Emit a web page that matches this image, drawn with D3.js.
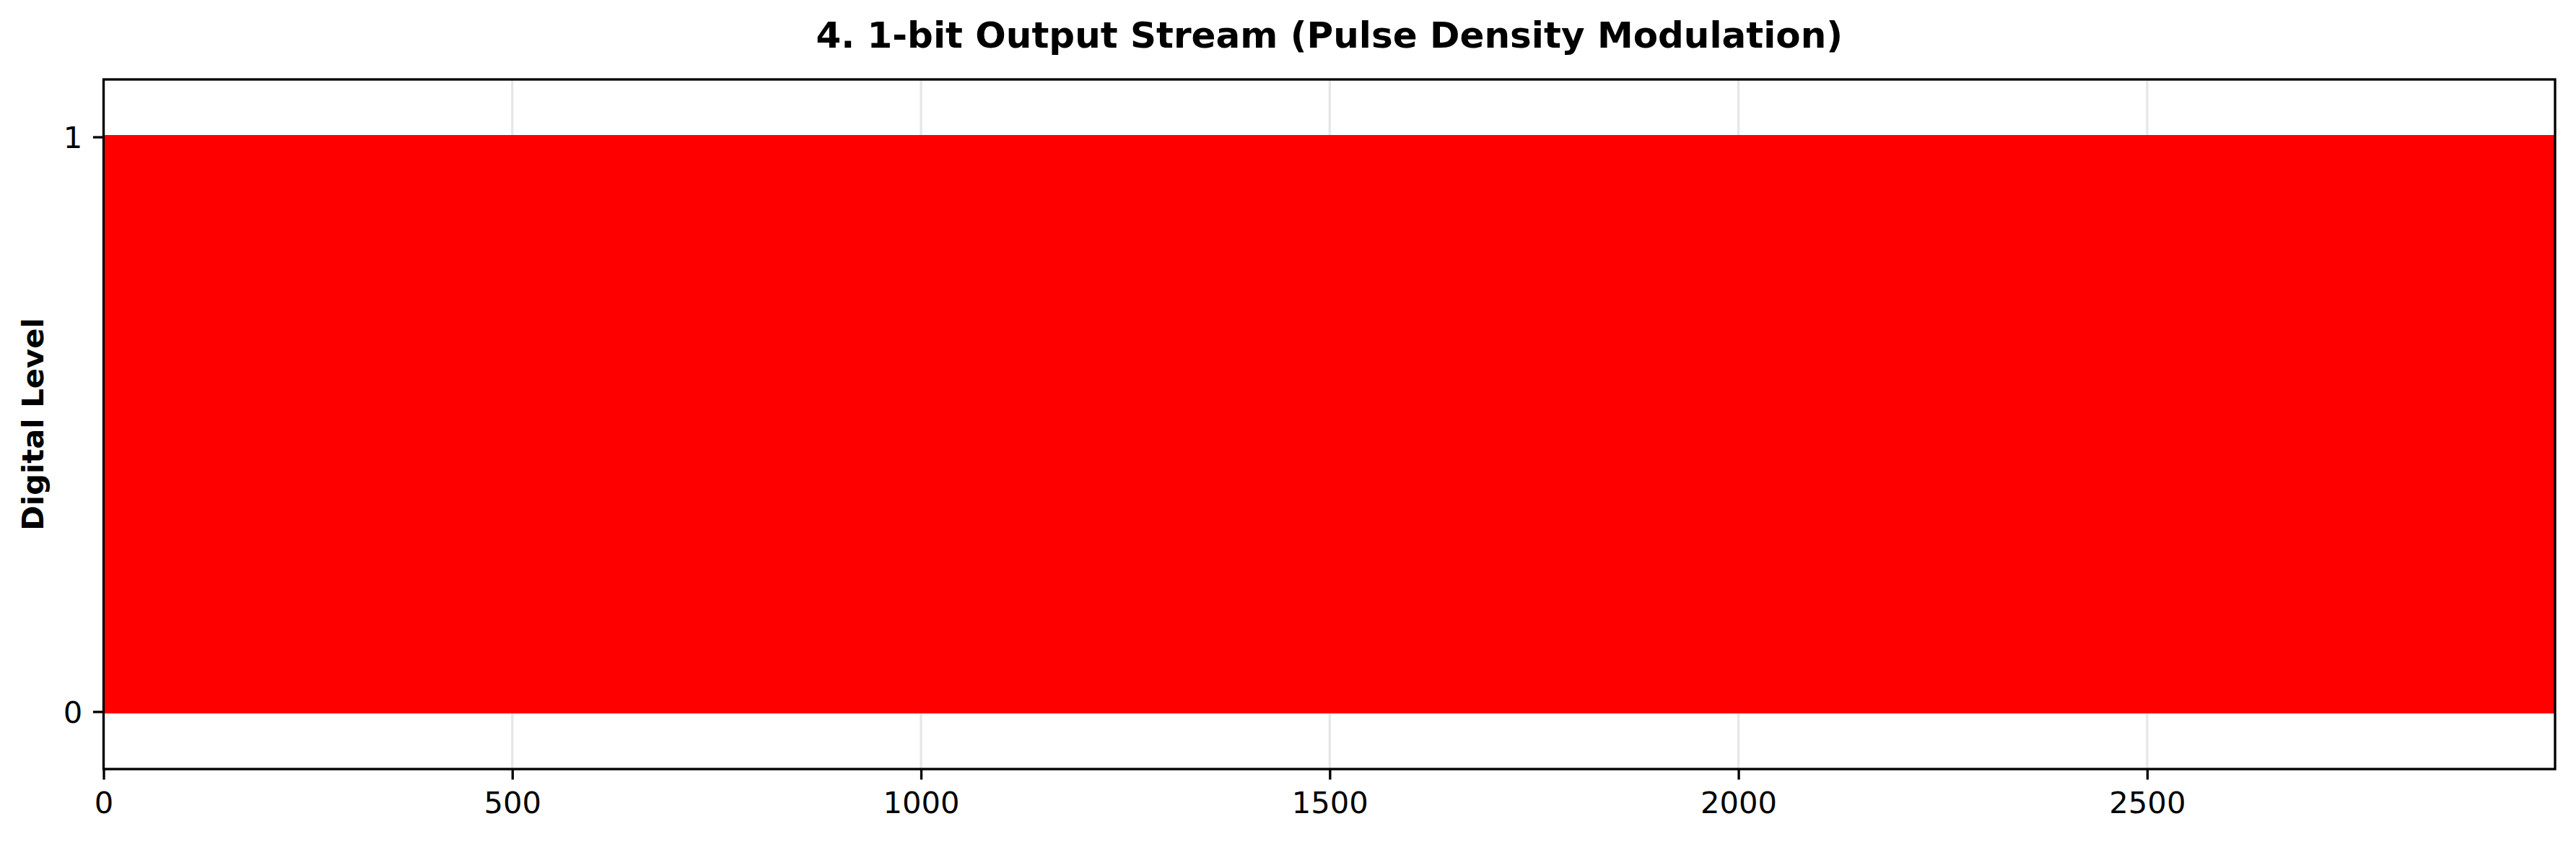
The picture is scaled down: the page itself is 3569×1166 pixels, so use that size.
<!DOCTYPE html>
<html>
<head>
<meta charset="utf-8">
<script src="https://cdn.jsdelivr.net/npm/d3@7"></script>
<style>
  body { margin: 0; background: #fff; }
  svg { display: block; font-family: "DejaVu Sans", sans-serif; }
</style>
</head>
<body>
<svg id="chart" width="3569" height="1166"></svg>
<script>
// 1-bit stream, 3000 samples, 100 per row (spaces are only for reading)
var bitRows = [
  "1010110101 0101101010 1101010010 0110101101 1011010100 0100101011 1010101101 0101011010 1010110101 1101010010",
  "0110101101 1010101101 0101101010 1011010100 0100101011 1101010010 0101011010 1010110101 0110101101 1011010100",
  "1101010010 0100101011 1010110101 0101011010 0110101101 1010101101 1011010100 0101101010 1101010010 0100101011",
  "1010101101 1011010100 0110101101 0101101010 1010110101 0101011010 1101010010 0100101011 1010101101 0110101101",
  "0101101010 1101010010 1010110101 0100101011 1011010100 0110101101 0101011010 1010101101 0101101010 1011010100",
  "1010110101 0110101101 1101010010 1010101101 0101011010 1011010100 0100101011 0101101010 1010110101 1101010010",
  "0100101011 1010101101 0101101010 1101010010 0110101101 1010110101 1011010100 0101011010 0100101011 1010101101",
  "1011010100 0101011010 1010110101 0110101101 1101010010 0100101011 1010101101 0101101010 1011010100 0110101101",
  "0101011010 1010110101 0100101011 1011010100 0101101010 1101010010 0110101101 1010101101 0101011010 1010110101",
  "1101010010 0110101101 1010101101 0101011010 1010110101 0101101010 1011010100 0100101011 1101010010 0101101010",
  "1010110101 1011010100 0101101010 1010101101 0100101011 0110101101 1101010010 0101011010 1010110101 1011010100",
  "0110101101 0101011010 1101010010 1010110101 1011010100 1010101101 0101101010 0100101011 0110101101 1010101101",
  "1010101101 0100101011 0110101101 1101010010 0101011010 1011010100 1010110101 0101101010 1010101101 0100101011",
  "0101101010 1010110101 1011010100 0101011010 1010101101 0100101011 0110101101 1101010010 0101101010 1010110101",
  "1011010100 1101010010 0101011010 0110101101 0101101010 1010110101 0100101011 1010101101 1011010100 1101010010",
  "0100101011 0101101010 1010101101 1011010100 1101010010 0101011010 1010110101 0110101101 0100101011 0101101010",
  "1010110101 1010101101 0100101011 0101101010 0110101101 1101010010 0101011010 1011010100 1010110101 1010101101",
  "1101010010 1011010100 1010110101 0100101011 1010101101 0110101101 0101101010 0101011010 1101010010 1011010100",
  "0101011010 0110101101 1101010010 1010101101 1011010100 0101101010 1010110101 0100101011 0101011010 0110101101",
  "1010101101 0101101010 0101011010 1101010010 0100101011 1010110101 1011010100 0110101101 1010101101 0101101010",
  "0110101101 1010110101 1011010100 0100101011 0101011010 1010101101 1101010010 0101101010 0110101101 1010110101",
  "1011010100 0100101011 1010101101 0110101101 1010110101 0101011010 0101101010 1101010010 1011010100 0100101011",
  "0101101010 1101010010 0110101101 1010110101 1010101101 0100101011 0101011010 1011010100 0101101010 1101010010",
  "1010110101 0101011010 1011010100 0101101010 1101010010 0110101101 1010101101 0100101011 1010110101 0101011010",
  "0100101011 1010101101 1010110101 1011010100 0110101101 0101101010 1101010010 0101011010 0100101011 1010101101",
  "1101010010 0110101101 0101101010 1010101101 1011010100 1010110101 0100101011 0101011010 1101010010 0110101101",
  "1010101101 1011010100 0101011010 0100101011 1010110101 1101010010 0110101101 0101101010 1010101101 1011010100",
  "0110101101 0101101010 1101010010 1010110101 0101011010 1010101101 1011010100 0100101011 0110101101 0101101010",
  "1011010100 1010110101 0100101011 1101010010 0101101010 0110101101 0101011010 1010101101 1011010100 1010110101",
  "0101011010 1101010010 1010101101 0110101101 0100101011 1011010100 1010110101 0101101010 0101011010 1101010010"
];
var xTicks = [0, 500, 1000, 1500, 2000, 2500];
var yTicks = [0, 1];

var bits = bitRows.join("").replace(/ /g, "").split("").map(Number);
var samples = bits.map(function(b, i) { return {n: i, level: b}; });

var svg = d3.select("#chart"),
    margin = {top: 110, right: 29, bottom: 101, left: 143.5},
    width = +svg.attr("width") - margin.left - margin.right,
    height = +svg.attr("height") - margin.top - margin.bottom,
    g = svg.append("g").attr("transform", "translate(" + margin.left + "," + margin.top + ")");

var x = d3.scaleLinear().domain([0, 2999]).range([0, width]);
var y = d3.scaleLinear().domain([-0.1, 1.1]).range([height, 0]);

// grid
g.append("g").selectAll("line")
  .data(xTicks)
  .enter().append("line")
    .attr("x1", function(d) { return x(d); })
    .attr("x2", function(d) { return x(d); })
    .attr("y1", 0).attr("y2", height)
    .attr("stroke", "#e7e7e7").attr("stroke-width", 3.3);
g.append("g").selectAll("line")
  .data(yTicks)
  .enter().append("line")
    .attr("y1", function(d) { return y(d); })
    .attr("y2", function(d) { return y(d); })
    .attr("x1", 0).attr("x2", width)
    .attr("stroke", "#e7e7e7").attr("stroke-width", 3.3);

svg.append("defs").append("clipPath").attr("id", "plot-clip")
  .append("rect").attr("width", width).attr("height", height);

var line = d3.line()
  .x(function(d) { return x(d.n); })
  .y(function(d) { return y(d.level); })
  .curve(d3.curveStepAfter);

g.append("path")
  .datum(samples)
  .attr("clip-path", "url(#plot-clip)")
  .attr("fill", "none")
  .attr("stroke", "#ff0000")
  .attr("stroke-width", 5)
  .attr("d", line);

// axes
var xAxis = g.append("g")
  .attr("transform", "translate(0," + height + ")")
  .call(d3.axisBottom(x).tickValues(xTicks).tickFormat(d3.format("d")).tickSize(14.6).tickPadding(16.8));
var yAxis = g.append("g")
  .call(d3.axisLeft(y).tickValues(yTicks).tickFormat(d3.format("d")).tickSize(14.6).tickPadding(14.6));

[xAxis, yAxis].forEach(function(a) {
  a.select(".domain").remove();
  a.selectAll("line").attr("stroke", "#000").attr("stroke-width", 3.33);
  a.selectAll("text").attr("font-size", 41.7).attr("fill", "#000")
    .attr("font-family", "DejaVu Sans, sans-serif");
});
yAxis.selectAll("text").attr("dy", "0.36em");

g.append("rect")
  .attr("width", width).attr("height", height)
  .attr("fill", "none").attr("stroke", "#000").attr("stroke-width", 3.33);

svg.append("text")
  .attr("x", margin.left + width / 2)
  .attr("y", 66)
  .attr("text-anchor", "middle")
  .attr("font-size", 50)
  .attr("font-weight", "bold")
  .text("4. 1-bit Output Stream (Pulse Density Modulation)");

svg.append("text")
  .attr("transform", "translate(60," + (margin.top + height / 2) + ") rotate(-90)")
  .attr("text-anchor", "middle")
  .attr("font-size", 41.7)
  .attr("font-weight", "bold")
  .text("Digital Level");
</script>
</body>
</html>
